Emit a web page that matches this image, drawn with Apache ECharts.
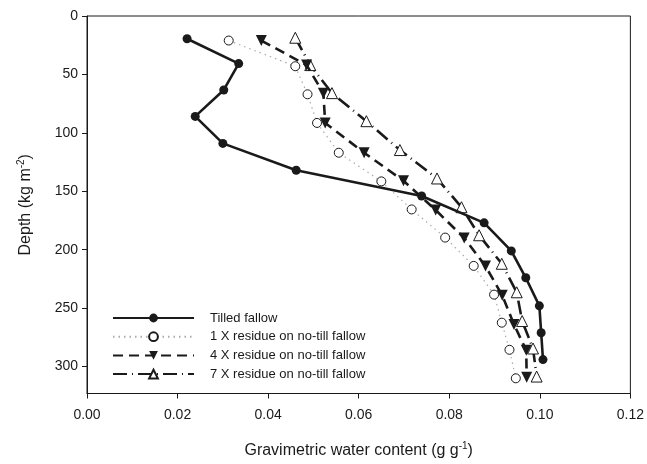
<!DOCTYPE html>
<html>
<head>
<meta charset="utf-8">
<script src="https://cdn.jsdelivr.net/npm/echarts@6/dist/echarts.min.js"></script>
<style>
html,body{margin:0;padding:0;background:#fff;}
#chart{width:647px;height:464px;}
</style>
</head>
<body>
<div id="chart"></div>
<script>
var seriesNames = ['Tilled fallow', '1 X residue on no-till fallow', '4 X residue on no-till fallow', '7 X residue on no-till fallow'];
var xTicks = [0, 0.02, 0.04, 0.06, 0.08, 0.10, 0.12];
var yTicks = [0, 50, 100, 150, 200, 250, 300];

var tilledDepth = [19.5, 40.7, 63.3, 85.9, 109, 132, 154, 177, 201, 224, 248, 271, 294];
var tilledWC    = [0.0221, 0.0335, 0.0302, 0.0239, 0.0300, 0.0462, 0.0739, 0.0877, 0.0937, 0.0969, 0.0999, 0.1003, 0.1007];

var res1Depth = [21, 43, 67, 91.5, 117, 141.5, 165.5, 189.6, 213.8, 238.4, 262.4, 285.6, 310];
var res1WC    = [0.0313, 0.0460, 0.0487, 0.0508, 0.0556, 0.0650, 0.0717, 0.0791, 0.0854, 0.0899, 0.0916, 0.0933, 0.0947];

var res4Depth = [21, 42, 66, 91.5, 117, 141, 166, 190, 214, 239, 264, 286, 309];
var res4WC    = [0.0385, 0.0485, 0.0522, 0.0526, 0.0612, 0.0699, 0.0770, 0.0833, 0.0880, 0.0917, 0.0943, 0.0970, 0.0971];

var res7Depth = [18.6, 42, 66, 90, 114.7, 139, 163.6, 187.6, 212, 236.4, 261, 284.5, 308.5];
var res7WC    = [0.0460, 0.0493, 0.0541, 0.0617, 0.0691, 0.0773, 0.0827, 0.0866, 0.0916, 0.0949, 0.0961, 0.0985, 0.0993];

function pairs(xs, ys) { return xs.map(function (v, i) { return [v, ys[i]]; }); }

var FONT = 'Liberation Sans, Arial, Helvetica, sans-serif';
var INK = '#1a1a1a';

var chart = echarts.init(document.getElementById('chart'), null, {renderer: 'canvas'});
chart.setOption({
  animation: false,
  backgroundColor: '#fff',
  textStyle: {fontFamily: FONT, color: INK},
  grid: {left: 87, right: 16, top: 16, bottom: 66, show: true, borderColor: INK, borderWidth: 1, containLabel: false},
  legend: {
    orient: 'vertical', left: 107, top: 306,
    itemWidth: 81, itemHeight: 11, itemGap: 4.7,
    textStyle: {fontFamily: FONT, fontSize: 13, color: INK, lineHeight: 14, padding: [0, 0, 0, 11]},
    data: seriesNames
  },
  xAxis: {
    type: 'value', min: 0, max: 0.12, interval: 0.02, position: 'bottom',
    name: 'Gravimetric water content (g g{sup|-1})',
    nameLocation: 'middle', nameGap: 48,
    nameTextStyle: {fontFamily: FONT, fontSize: 16, color: INK,
      rich: {sup: {fontSize: 10, fontFamily: FONT, color: INK, padding: [0, 0, 9, 0]}}},
    axisLine: {show: true, onZero: false, lineStyle: {color: INK, width: 1}},
    axisTick: {show: true, inside: false, length: 5, lineStyle: {color: INK}},
    axisLabel: {fontFamily: FONT, fontSize: 14, color: INK, margin: 15,
      formatter: function (v) { return v.toFixed(2); }},
    splitLine: {show: false}
  },
  yAxis: {
    type: 'value', inverse: true, min: 0, max: 323, interval: 50, position: 'left',
    name: 'Depth (kg m{sup|-2})',
    nameLocation: 'middle', nameGap: 52, nameRotate: 90,
    nameTextStyle: {fontFamily: FONT, fontSize: 16, color: INK,
      rich: {sup: {fontSize: 10, fontFamily: FONT, color: INK, padding: [0, 0, 9, 0]}}},
    axisLine: {show: true, onZero: false, lineStyle: {color: INK, width: 1}},
    axisTick: {show: true, inside: false, length: 5, lineStyle: {color: INK}},
    axisLabel: {fontFamily: FONT, fontSize: 14, color: INK, margin: 9, showMaxLabel: false},
    splitLine: {show: false}
  },
  series: [
    {
      name: seriesNames[0], type: 'line', data: pairs(tilledWC, tilledDepth),
      symbol: 'circle', symbolSize: 9,
      lineStyle: {color: INK, width: 2.6, type: 'solid'},
      itemStyle: {color: INK, borderColor: INK, borderWidth: 0},
      z: 5
    },
    {
      name: seriesNames[1], type: 'line', data: pairs(res1WC, res1Depth),
      symbol: 'circle', symbolSize: 9,
      lineStyle: {color: '#aaaaaa', width: 1.2, type: [1.5, 4]},
      itemStyle: {color: '#ffffff', borderColor: INK, borderWidth: 1},
      z: 2
    },
    {
      name: seriesNames[2], type: 'line', data: pairs(res4WC, res4Depth),
      symbol: 'triangle', symbolRotate: 180, symbolSize: 11,
      lineStyle: {color: INK, width: 2.6, type: [10, 6]},
      itemStyle: {color: INK, borderColor: INK, borderWidth: 0},
      z: 4
    },
    {
      name: seriesNames[3], type: 'line', data: pairs(res7WC, res7Depth),
      symbol: 'triangle', symbolSize: 11,
      lineStyle: {color: INK, width: 2.6, type: [14, 5, 1, 5]},
      itemStyle: {color: '#ffffff', borderColor: INK, borderWidth: 1},
      z: 3
    }
  ]
});
</script>
</body>
</html>
